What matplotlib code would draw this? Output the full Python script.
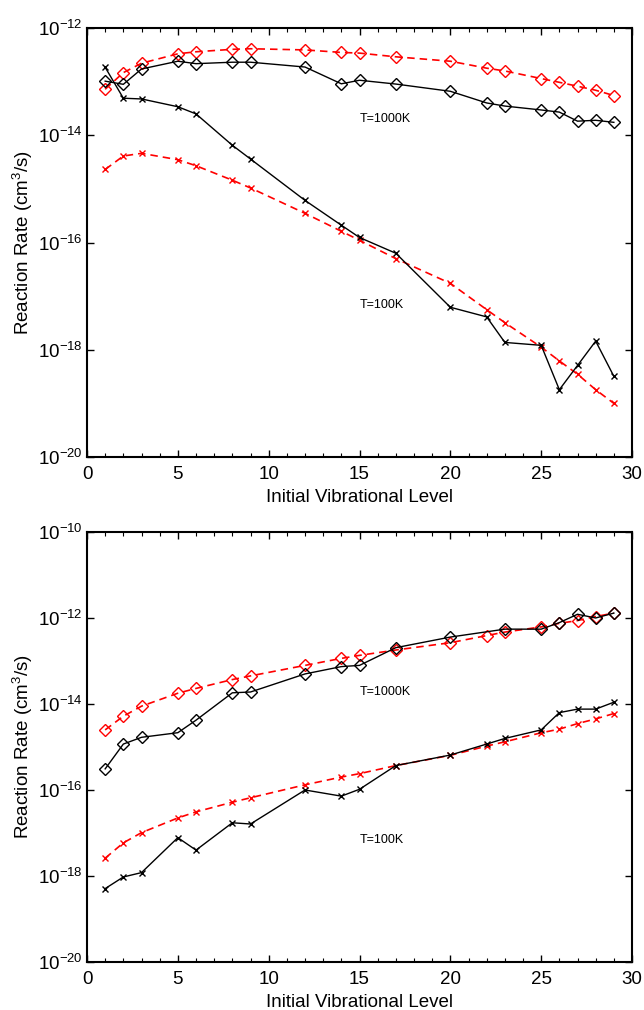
import numpy as np
import matplotlib
matplotlib.use("Agg")
import matplotlib.pyplot as plt
from matplotlib.ticker import MultipleLocator, NullLocator, FixedLocator

plt.rcParams["font.family"] = ["Liberation Sans", "DejaVu Sans"]
plt.rcParams["mathtext.fontset"] = "custom"
plt.rcParams["mathtext.rm"] = "Liberation Sans"
plt.rcParams["mathtext.it"] = "Liberation Sans:italic"
plt.rcParams["mathtext.bf"] = "Liberation Sans:bold"

# vibrational levels
levels = [1, 2, 3, 5, 6, 8, 9, 12, 14, 15, 17, 20, 22, 23, 25, 26, 27, 28, 29]
levels_b_black_1000 = [1, 2, 3, 5, 6, 8, 9, 12, 14, 15, 17, 20, 23, 25, 26, 27, 28, 29]

# top panel
top_red_1000 = [7.2e-14, 1.47e-13, 2.2e-13, 3.3e-13, 3.6e-13, 4.0e-13, 4.1e-13, 3.9e-13,
                3.5e-13, 3.4e-13, 2.9e-13, 2.4e-13, 1.78e-13, 1.58e-13, 1.14e-13,
                9.7e-14, 8.2e-14, 6.9e-14, 5.5e-14]
top_black_1000 = [1.02e-13, 8.9e-14, 1.72e-13, 2.4e-13, 2.16e-13, 2.3e-13, 2.3e-13, 1.87e-13,
                  9.1e-14, 1.06e-13, 9.0e-14, 6.6e-14, 4.0e-14, 3.5e-14, 2.96e-14,
                  2.7e-14, 1.83e-14, 1.9e-14, 1.74e-14]
top_black_100 = [1.85e-13, 4.9e-14, 4.75e-14, 3.4e-14, 2.5e-14, 6.5e-15, 3.6e-15, 6.1e-16,
                 2.1e-16, 1.24e-16, 6.3e-17, 6.2e-18, 4.1e-18, 1.37e-18, 1.21e-18,
                 1.8e-19, 5.1e-19, 1.45e-18, 3.2e-19]
top_red_100 = [2.3e-15, 4.1e-15, 4.6e-15, 3.5e-15, 2.7e-15, 1.45e-15, 1.04e-15, 3.5e-16,
               1.62e-16, 1.1e-16, 5.0e-17, 1.73e-17, 5.6e-18, 3.2e-18, 1.12e-18,
               6.2e-19, 3.5e-19, 1.8e-19, 1.0e-19]

# bottom panel
bot_red_1000 = [2.5e-15, 5.2e-15, 8.9e-15, 1.78e-14, 2.3e-14, 3.7e-14, 4.5e-14, 7.9e-14,
                1.15e-13, 1.35e-13, 1.8e-13, 2.66e-13, 3.9e-13, 4.7e-13, 6.2e-13,
                7.5e-13, 8.7e-13, 1.08e-12, 1.3e-12]
bot_black_1000 = [3.1e-16, 1.17e-15, 1.68e-15, 2.15e-15, 4.2e-15, 1.82e-14, 1.9e-14, 5.0e-14,
                  7.4e-14, 7.9e-14, 2.04e-13, 3.6e-13, 5.5e-13, 5.5e-13,
                  7.8e-13, 1.22e-12, 1.0e-12, 1.3e-12]
bot_black_100 = [5.1e-19, 9.5e-19, 1.2e-18, 7.8e-18, 4.0e-18, 1.73e-17, 1.62e-17, 1.0e-16,
                 7.2e-17, 1.04e-16, 3.7e-16, 6.5e-16, 1.17e-15, 1.58e-15, 2.5e-15,
                 6.3e-15, 7.6e-15, 7.6e-15, 1.1e-14]
bot_red_100 = [2.6e-18, 5.9e-18, 1.02e-17, 2.24e-17, 3.1e-17, 5.2e-17, 6.6e-17, 1.32e-16,
               2.0e-16, 2.4e-16, 3.7e-16, 6.4e-16, 1.05e-15, 1.32e-15, 2.14e-15,
               2.6e-15, 3.5e-15, 4.5e-15, 6.0e-15]

fig = plt.figure(figsize=(6.44, 10.10), dpi=100)
ax1 = fig.add_axes([0.1351, 0.5475, 0.8463, 0.4248])
ax2 = fig.add_axes([0.1351, 0.0475, 0.8463, 0.4258])

red_style = dict(color="#ff0000", lw=1.2, dashes=(4.5, 3))
black_style = dict(color="black", lw=1.0)


def style_axes(ax, ymin, ymax):
    ax.set_yscale("log")
    ax.set_xlim(0, 30)
    ax.set_ylim(ymin, ymax)
    ax.xaxis.set_major_locator(MultipleLocator(5))
    ax.xaxis.set_minor_locator(MultipleLocator(1))
    exps = np.arange(np.log10(ymin), np.log10(ymax) + 1, 2)
    ax.yaxis.set_major_locator(FixedLocator(10.0 ** exps))
    ax.yaxis.set_minor_locator(NullLocator())
    ax.tick_params(which="both", direction="in", top=True, right=True, labelsize=13.5)
    ax.tick_params(which="major", length=5, width=1)
    ax.tick_params(which="minor", length=3, width=0.8)
    ax.tick_params(axis="x", pad=6.5)
    ax.tick_params(axis="y", pad=3)
    for s in ax.spines.values():
        s.set_linewidth(1.5)
    ax.set_xlabel("Initial Vibrational Level", fontsize=13.5, labelpad=4)
    ax.set_ylabel("Reaction Rate (cm$^3$/s)", fontsize=13.5, labelpad=2)


# top panel
ax1.plot(levels, top_red_1000, marker="D", ms=6, mfc="none", mew=1, **red_style)
ax1.plot(levels, top_black_1000, marker="D", ms=6, mfc="none", mew=1, **black_style)
ax1.plot(levels, top_red_100, marker="x", ms=5, mew=1, **red_style)
ax1.plot(levels, top_black_100, marker="x", ms=5, mew=1, **black_style)
ax1.text(15, 10 ** -13.70, "T=1000K", fontsize=9, va="center", ha="left")
ax1.text(15, 10 ** -17.17, "T=100K", fontsize=9, va="center", ha="left")
style_axes(ax1, 1e-20, 1e-12)

# bottom panel
ax2.plot(levels, bot_red_1000, marker="D", ms=6, mfc="none", mew=1, **red_style)
ax2.plot(levels_b_black_1000, bot_black_1000, marker="D", ms=6, mfc="none", mew=1, **black_style)
ax2.plot(levels, bot_red_100, marker="x", ms=5, mew=1, **red_style)
ax2.plot(levels, bot_black_100, marker="x", ms=5, mew=1, **black_style)
ax2.text(15, 10 ** -13.71, "T=1000K", fontsize=9, va="center", ha="left")
ax2.text(15, 10 ** -17.16, "T=100K", fontsize=9, va="center", ha="left")
style_axes(ax2, 1e-20, 1e-10)

fig.savefig("out.png", dpi=100)
